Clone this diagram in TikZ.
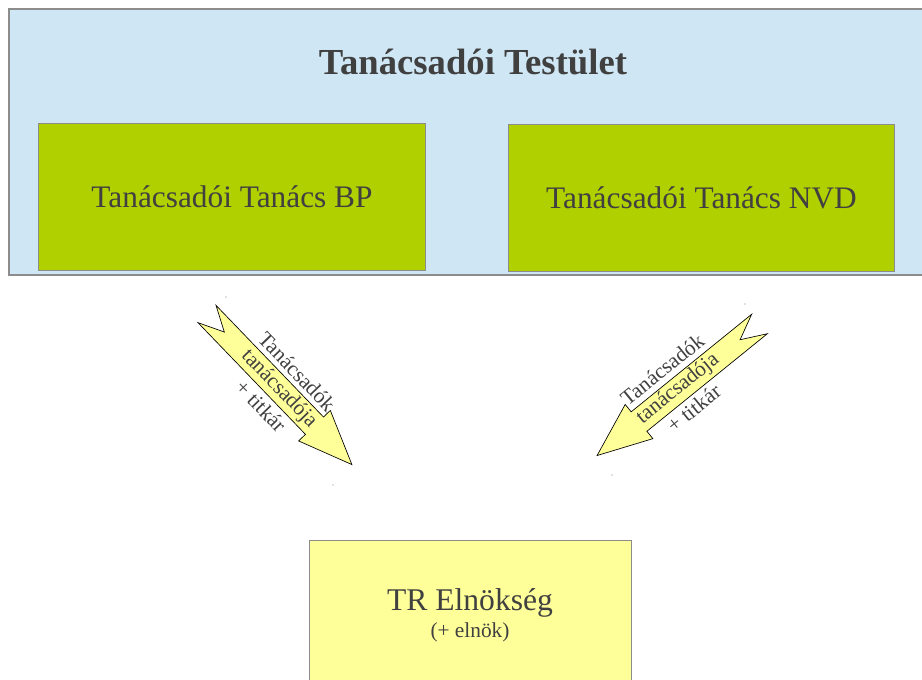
\documentclass[tikz,border=0pt]{standalone}
\usepackage{fontspec}
\setmainfont{Liberation Serif}
\definecolor{tblue}{HTML}{CFE7F5}
\definecolor{tgreen}{HTML}{B0D000}
\definecolor{tyellow}{HTML}{FFFF99}
\definecolor{tborder}{HTML}{8C8C8C}
\definecolor{ttext}{HTML}{404040}
\tikzset{
  px/.style={x=0.75pt,y=-0.75pt},
  outerbox/.style={draw=tborder,line width=0.9pt,fill=tblue},
  greenbox/.style={draw=tborder,line width=0.7pt,fill=tgreen},
  yelbox/.style={draw=tborder,line width=0.7pt,fill=tyellow},
  bigarrow/.style={draw=black,line width=0.5pt,fill=tyellow,line join=miter},
  lbl/.style={text=ttext,font=\fontsize{16}{19}\selectfont,inner sep=0pt},
  dotmark/.style={fill=gray,draw=none},
}
\newcommand{\notcharrow}{(0,-12.5) -- (155,-12.5) -- (155,-22) -- (209,0) -- (155,22) -- (155,12.5) -- (0,12.5) -- (25,0) -- cycle}
\begin{document}
\begin{tikzpicture}[px]
\useasboundingbox (0,0) rectangle (922,679);
% top container
\draw[outerbox] (926,9) -- (9,9) -- (9,275) -- (926,275);
\node[text=ttext,font=\bfseries\fontsize{27.5}{32}\selectfont] (title) at (473,62) {Tanácsadói Testület};
% green boxes
\node[greenbox,minimum width=387*0.75pt,minimum height=147*0.75pt,anchor=north west,
      text=ttext,font=\fontsize{23.5}{28}\selectfont] (bp) at (38,123) {Tanácsadói Tanács BP};
\node[greenbox,minimum width=386*0.75pt,minimum height=147*0.75pt,anchor=north west,
      text=ttext,font=\fontsize{23.5}{28}\selectfont] (nvd) at (508,124) {Tanácsadói Tanács NVD};
% bottom box
\draw[yelbox] (309,685) -- (309,540) -- (631,540) -- (631,685);
\node[text=ttext,font=\fontsize{23.7}{28}\selectfont,inner sep=0pt] (tr) at (470,603) {TR Elnökség};
\node[text=ttext,font=\fontsize{16}{19}\selectfont,inner sep=0pt] (elnok) at (470,632) {(+ elnök)};
% left arrow
\begin{scope}[shift={(207,314)},rotate=-46.1]
  \draw[bigarrow] \notcharrow;
\end{scope}
\begin{scope}[shift={(279,389)},rotate=-46.1]
  \node[lbl,rotate=-46.1] (lblA1) at (0,-25) {Tanácsadók};
  \node[lbl,rotate=-46.1] (lblA2) at (0,0) {tanácsadója};
  \node[lbl,rotate=-46.1] (lblA3) at (0,25) {+ titkár};
\end{scope}
% right arrow
\begin{scope}[shift={(759.5,324)},rotate=219]
  \draw[bigarrow] \notcharrow;
\end{scope}
\begin{scope}[shift={(678,389)},rotate=39]
  \node[lbl,rotate=39] (lblB1) at (0,-25) {Tanácsadók};
  \node[lbl,rotate=39] (lblB2) at (0,0) {tanácsadója};
  \node[lbl,rotate=39] (lblB3) at (0,25) {+ titkár};
\end{scope}
% tiny corner marks
\fill[dotmark] (226,297) circle (0.6);
\fill[dotmark] (333,485) circle (0.6);
\fill[dotmark] (745,304) circle (0.6);
\fill[dotmark] (612,475) circle (0.6);
\end{tikzpicture}
\end{document}
